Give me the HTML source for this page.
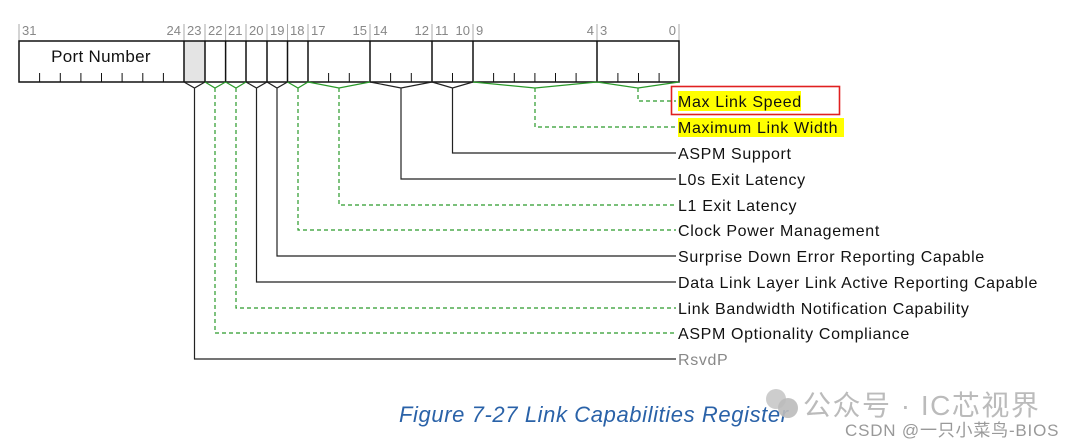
<!DOCTYPE html>
<html><head><meta charset="utf-8"><style>
html,body{margin:0;padding:0;background:#fff;width:1080px;height:448px;overflow:hidden}
svg{display:block}
text{font-family:"Liberation Sans","Noto Sans CJK SC",sans-serif}
</style></head><body>
<svg width="1080" height="448" viewBox="0 0 1080 448" xmlns="http://www.w3.org/2000/svg">
<rect x="184" y="41" width="21" height="41" fill="#e4e4e4"/>
<g stroke="#aaa" stroke-width="1">
<path d="M19 24V41M184 24V41M205 24V41M225.6 24V41M246 24V41M267 24V41M287.5 24V41M308 24V41M370 24V41M432 24V41M473 24V41M597 24V41M679 24V41"/>
</g>
<g font-size="13" fill="#888">
<text x="22" y="35">31</text><text x="181" y="35" text-anchor="end">24</text>
<text x="187" y="35">23</text><text x="208" y="35">22</text><text x="228" y="35">21</text>
<text x="249" y="35">20</text><text x="270" y="35">19</text><text x="290" y="35">18</text>
<text x="311" y="35">17</text><text x="367" y="35" text-anchor="end">15</text>
<text x="373" y="35">14</text><text x="429" y="35" text-anchor="end">12</text>
<text x="435" y="35">11</text><text x="470" y="35" text-anchor="end">10</text>
<text x="476" y="35">9</text><text x="594" y="35" text-anchor="end">4</text>
<text x="600" y="35">3</text><text x="676" y="35" text-anchor="end">0</text>
</g>
<g stroke="#111" stroke-width="1.5" fill="none">
<rect x="19" y="41" width="660" height="41"/>
<path d="M184 41V82M205 41V82M225.6 41V82M246 41V82M267 41V82M287.5 41V82M308 41V82M370 41V82M432 41V82M473 41V82M597 41V82"/>
</g>
<g stroke="#111" stroke-width="1">
<path d="M39.6 73V82M60.3 73V82M80.9 73V82M101.5 73V82M122.1 73V82M142.8 73V82M163.4 73V82M328.6 73V82M349.3 73V82M390.6 73V82M411.3 73V82M452.5 73V82M493.6 73V82M514.3 73V82M534.9 73V82M555.5 73V82M576.1 73V82M617.9 73V82M638.5 73V82M659.1 73V82"/>
</g>
<text x="101" y="62" font-size="17" text-anchor="middle" fill="#111" letter-spacing="0.3">Port Number</text>
<g stroke="#222" stroke-width="1.2" fill="none">
<path d="M184 82L194.5 88L205 82M194.5 88V359H676"/>
<path d="M246 82L256.5 88L267 82M256.5 88V282H676"/>
<path d="M267 82L277 88L287.5 82M277 88V256H676"/>
<path d="M370 82L401 88L432 82M401 88V179H676"/>
<path d="M432 82L452.5 88L473 82M452.5 88V153H676"/>
</g>
<g stroke="#2a9a2a" stroke-width="1.2" fill="none">
<path d="M205 82L215 88L225.6 82"/><path d="M225.6 82L236 88L246 82"/>
<path d="M287.5 82L298 88L308 82"/><path d="M308 82L339 88L370 82"/>
<path d="M473 82L535 88L597 82"/><path d="M597 82L638 88L679 82"/>
</g>
<g stroke="#2a9a2a" stroke-width="1.2" fill="none" stroke-dasharray="4,3">
<path d="M215 88V333H676"/><path d="M236 88V308H676"/>
<path d="M298 88V230H676"/><path d="M339 88V205H676"/>
<path d="M535 88V127H676"/><path d="M638 88V101H676"/>
</g>
<rect x="678" y="91" width="123" height="20" fill="#ffff00"/>
<rect x="678" y="118" width="166" height="19" fill="#ffff00"/>
<rect x="671.5" y="86.5" width="168" height="28" fill="none" stroke="#e02020" stroke-width="1.6"/>
<g font-size="16" fill="#111" letter-spacing="0.65">
<text x="678" y="107">Max Link Speed</text>
<text x="678" y="133">Maximum Link Width</text>
<text x="678" y="159">ASPM Support</text>
<text x="678" y="185">L0s Exit Latency</text>
<text x="678" y="211">L1 Exit Latency</text>
<text x="678" y="236">Clock Power Management</text>
<text x="678" y="262">Surprise Down Error Reporting Capable</text>
<text x="678" y="288">Data Link Layer Link Active Reporting Capable</text>
<text x="678" y="314">Link Bandwidth Notification Capability</text>
<text x="678" y="339">ASPM Optionality Compliance</text>
<text x="678" y="365" fill="#888">RsvdP</text>
</g>
<text x="399" y="422" font-size="22" font-style="italic" fill="#2a62a8" letter-spacing="0.6">Figure  7-27  Link Capabilities Register</text>
<circle cx="776" cy="399" r="10" fill="#c8c8c8" opacity="0.9"/><circle cx="788" cy="408" r="10" fill="#bbb" opacity="0.9"/>
<text x="803" y="415" font-size="28" fill="#bbb" letter-spacing="1.5">公众号 · IC芯视界</text>
<text x="845" y="436" font-size="17" fill="#999" letter-spacing="0.8">CSDN @一只小菜鸟-BIOS</text>
</svg>
</body></html>
